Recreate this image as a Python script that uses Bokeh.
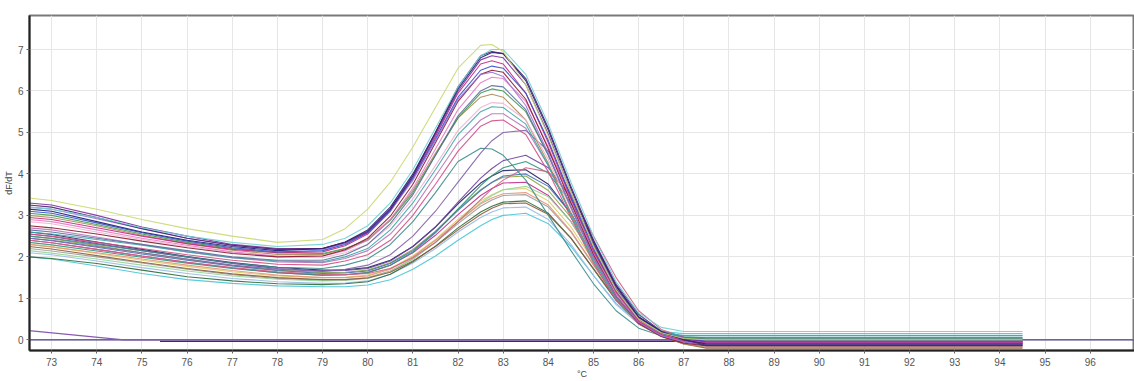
from bokeh.plotting import figure
from bokeh.models import Range1d, FixedTicker
from bokeh.embed import file_html
from bokeh.resources import INLINE

# ---------------- data ----------------
temps = [72.5, 73, 74, 75, 76, 77, 78, 79, 79.5, 80, 80.5, 81, 81.5, 82, 82.5, 82.75,
         83, 83.5, 84, 84.5, 85, 85.5, 86, 86.5, 87, 87.5, 94.5]

x_ticks = list(range(73, 98))
y_ticks = [0, 1, 2, 3, 4, 5, 6, 7]

# high-peak wells (Tm ~82.6)
u01 = [3.42, 3.36, 3.15, 2.9, 2.68, 2.5, 2.35, 2.42, 2.68, 3.15, 3.8, 4.65, 5.6, 6.55, 7.1, 7.12, 6.95, 6.15, 4.9, 3.55, 2.25, 1.2, 0.5, 0.17, 0.03, 0.0, 0.0]
u02 = [3.2, 3.15, 2.95, 2.7, 2.5, 2.35, 2.25, 2.3, 2.45, 2.75, 3.3, 4.1, 5.1, 6.1, 6.85, 7.0, 7.0, 6.4, 5.2, 3.8, 2.5, 1.4, 0.65, 0.3, 0.2, 0.2, 0.2]
u03 = [3.15, 3.1, 2.85, 2.6, 2.4, 2.25, 2.15, 2.2, 2.36, 2.65, 3.2, 4.0, 5.0, 6.05, 6.8, 6.93, 6.9, 6.25, 5.05, 3.65, 2.35, 1.3, 0.55, 0.2, 0.0, -0.1, -0.1]
u04 = [3.3, 3.25, 3.0, 2.72, 2.5, 2.3, 2.2, 2.2, 2.34, 2.6, 3.15, 3.95, 4.95, 6.0, 6.75, 6.85, 6.8, 6.15, 4.95, 3.55, 2.25, 1.2, 0.5, 0.17, 0.02, -0.05, -0.05]
u05 = [2.95, 2.9, 2.7, 2.5, 2.32, 2.18, 2.1, 2.12, 2.27, 2.55, 3.1, 3.9, 4.9, 5.95, 6.65, 6.73, 6.65, 5.95, 4.75, 3.4, 2.15, 1.15, 0.45, 0.12, -0.02, -0.08, -0.08]
u06 = [3.1, 3.05, 2.82, 2.58, 2.38, 2.22, 2.12, 2.15, 2.3, 2.58, 3.12, 3.9, 4.85, 5.85, 6.5, 6.6, 6.55, 5.95, 4.8, 3.45, 2.2, 1.2, 0.5, 0.17, 0.02, -0.03, -0.03]
u07 = [2.75, 2.7, 2.55, 2.38, 2.22, 2.08, 2.0, 2.02, 2.17, 2.45, 2.98, 3.75, 4.75, 5.75, 6.4, 6.5, 6.45, 5.8, 4.6, 3.3, 2.05, 1.05, 0.4, 0.08, -0.08, -0.15, -0.15]
u08 = [2.9, 2.85, 2.65, 2.45, 2.28, 2.12, 2.02, 2.02, 2.15, 2.4, 2.9, 3.65, 4.6, 5.55, 6.2, 6.33, 6.3, 5.75, 4.65, 3.35, 2.1, 1.1, 0.45, 0.12, 0.0, -0.06, -0.06]
u09 = [2.65, 2.6, 2.45, 2.3, 2.15, 2.0, 1.92, 1.92, 2.05, 2.3, 2.8, 3.5, 4.45, 5.4, 6.0, 6.13, 6.1, 5.55, 4.45, 3.2, 2.0, 1.05, 0.42, 0.1, -0.05, -0.12, -0.12]
u10 = [3.05, 3.0, 2.78, 2.55, 2.35, 2.2, 2.1, 2.08, 2.2, 2.4, 2.88, 3.55, 4.45, 5.35, 5.95, 6.05, 6.0, 5.5, 4.45, 3.2, 2.0, 1.05, 0.43, 0.14, 0.04, 0.02, 0.02]
u11 = [2.85, 2.8, 2.6, 2.42, 2.25, 2.1, 2.0, 1.98, 2.1, 2.3, 2.75, 3.4, 4.2, 5.05, 5.6, 5.72, 5.7, 5.3, 4.35, 3.15, 2.0, 1.05, 0.43, 0.13, 0.0, -0.04, -0.04]
u12 = [2.6, 2.55, 2.42, 2.28, 2.12, 1.98, 1.9, 1.88, 2.0, 2.2, 2.65, 3.3, 4.1, 4.95, 5.5, 5.62, 5.6, 5.2, 4.2, 3.0, 1.9, 1.0, 0.42, 0.17, 0.1, 0.1, 0.1]
u13 = [3.0, 2.95, 2.75, 2.52, 2.32, 2.16, 2.06, 2.06, 2.19, 2.42, 2.9, 3.6, 4.5, 5.35, 5.85, 5.92, 5.85, 5.3, 4.25, 3.05, 1.9, 1.0, 0.38, 0.08, -0.1, -0.18, -0.18]
u14 = [3.2, 3.15, 2.92, 2.68, 2.45, 2.28, 2.18, 2.18, 2.32, 2.58, 3.1, 3.85, 4.8, 5.8, 6.4, 6.45, 6.35, 5.65, 4.5, 3.2, 2.0, 1.05, 0.42, 0.1, -0.05, -0.1, -0.1]
u15 = [3.25, 3.2, 2.95, 2.68, 2.45, 2.28, 2.18, 2.2, 2.35, 2.62, 3.15, 3.95, 5.0, 6.1, 6.85, 6.95, 6.9, 6.3, 5.1, 3.7, 2.4, 1.3, 0.55, 0.18, 0.0, -0.13, -0.13]

# intermediate wells
m01 = [2.7, 2.65, 2.48, 2.3, 2.12, 1.98, 1.88, 1.86, 1.96, 2.15, 2.55, 3.15, 3.95, 4.75, 5.3, 5.45, 5.45, 5.1, 4.2, 3.05, 1.95, 1.02, 0.42, 0.12, 0.0, -0.05, -0.05]
m02 = [2.5, 2.45, 2.3, 2.15, 2.0, 1.85, 1.75, 1.72, 1.8, 1.95, 2.3, 2.85, 3.55, 4.3, 4.62, 4.6, 4.45, 3.85, 3.0, 2.15, 1.35, 0.7, 0.28, 0.1, 0.05, 0.05, 0.05]
m03 = [2.45, 2.4, 2.25, 2.1, 1.95, 1.8, 1.7, 1.65, 1.7, 1.8, 2.05, 2.5, 3.1, 3.8, 4.5, 4.8, 5.0, 5.05, 4.55, 3.5, 2.3, 1.25, 0.55, 0.2, 0.06, 0.02, 0.02]
m04 = [2.55, 2.5, 2.35, 2.2, 2.05, 1.92, 1.82, 1.8, 1.9, 2.05, 2.4, 3.0, 3.75, 4.55, 5.15, 5.28, 5.3, 4.95, 4.05, 2.95, 1.85, 0.95, 0.38, 0.1, -0.03, -0.07, -0.07]

# low-peak wells (Tm ~83.4)
l01 = [2.0, 1.95, 1.78, 1.6, 1.45, 1.36, 1.3, 1.28, 1.28, 1.32, 1.45, 1.7, 2.02, 2.4, 2.75, 2.9, 3.0, 3.05, 2.8, 2.25, 1.55, 0.88, 0.42, 0.2, 0.15, 0.15, 0.15]
l02 = [2.1, 2.05, 1.9, 1.74, 1.6, 1.48, 1.4, 1.36, 1.37, 1.42, 1.58, 1.85, 2.2, 2.6, 2.95, 3.08, 3.18, 3.2, 2.9, 2.3, 1.55, 0.85, 0.38, 0.16, 0.1, 0.1, 0.1]
l03 = [2.0, 1.96, 1.84, 1.68, 1.52, 1.42, 1.35, 1.33, 1.35, 1.4, 1.58, 1.88, 2.26, 2.7, 3.08, 3.22, 3.32, 3.35, 3.05, 2.45, 1.7, 0.95, 0.42, 0.12, -0.02, -0.08, -0.08]
l04 = [2.2, 2.14, 2.0, 1.85, 1.7, 1.57, 1.48, 1.44, 1.45, 1.5, 1.66, 1.95, 2.35, 2.8, 3.22, 3.37, 3.48, 3.5, 3.2, 2.6, 1.8, 1.0, 0.45, 0.14, 0.0, -0.02, -0.02]
l05 = [2.3, 2.24, 2.08, 1.92, 1.77, 1.64, 1.54, 1.5, 1.51, 1.56, 1.72, 2.02, 2.42, 2.9, 3.35, 3.5, 3.62, 3.65, 3.35, 2.72, 1.9, 1.05, 0.47, 0.14, -0.02, -0.06, -0.06]
l06 = [2.4, 2.34, 2.18, 2.02, 1.87, 1.73, 1.62, 1.56, 1.57, 1.62, 1.8, 2.1, 2.52, 3.02, 3.48, 3.65, 3.78, 3.8, 3.48, 2.85, 2.0, 1.12, 0.5, 0.15, -0.04, -0.1, -0.1]
l07 = [2.5, 2.44, 2.27, 2.1, 1.94, 1.79, 1.68, 1.62, 1.63, 1.68, 1.86, 2.18, 2.62, 3.15, 3.62, 3.79, 3.92, 3.95, 3.6, 2.95, 2.05, 1.15, 0.52, 0.18, 0.03, 0.0, 0.0]
l08 = [2.6, 2.54, 2.36, 2.18, 2.01, 1.86, 1.75, 1.68, 1.69, 1.74, 1.92, 2.25, 2.72, 3.28, 3.78, 3.95, 4.08, 4.1, 3.75, 3.05, 2.12, 1.2, 0.54, 0.16, -0.04, -0.14, -0.14]
l09 = [2.35, 2.29, 2.14, 1.99, 1.85, 1.72, 1.62, 1.56, 1.57, 1.62, 1.8, 2.12, 2.58, 3.15, 3.72, 3.96, 4.15, 4.3, 4.02, 3.3, 2.3, 1.3, 0.6, 0.22, 0.07, 0.05, 0.05]
l10 = [2.55, 2.49, 2.32, 2.15, 1.99, 1.84, 1.72, 1.66, 1.67, 1.72, 1.9, 2.25, 2.72, 3.32, 3.9, 4.13, 4.32, 4.45, 4.15, 3.42, 2.4, 1.35, 0.62, 0.2, 0.0, -0.06, -0.06]
l11 = [2.15, 2.09, 1.95, 1.8, 1.66, 1.54, 1.46, 1.42, 1.43, 1.48, 1.64, 1.95, 2.35, 2.85, 3.3, 3.48, 3.62, 3.7, 3.45, 2.85, 2.0, 1.12, 0.5, 0.16, 0.04, 0.03, 0.03]
l12 = [2.25, 2.19, 2.03, 1.87, 1.72, 1.59, 1.5, 1.45, 1.45, 1.49, 1.63, 1.9, 2.25, 2.65, 3.02, 3.17, 3.28, 3.3, 3.02, 2.45, 1.72, 0.98, 0.43, 0.1, -0.1, -0.2, -0.2]
l13 = [2.3, 2.24, 2.1, 1.95, 1.8, 1.67, 1.56, 1.5, 1.5, 1.54, 1.7, 2.0, 2.4, 2.85, 3.28, 3.42, 3.52, 3.55, 3.25, 2.62, 1.82, 1.02, 0.46, 0.14, -0.04, -0.1, -0.1]
l14 = [2.45, 2.39, 2.23, 2.07, 1.92, 1.78, 1.67, 1.6, 1.61, 1.66, 1.84, 2.15, 2.6, 3.12, 3.6, 3.8, 3.95, 4.0, 3.7, 3.05, 2.15, 1.22, 0.55, 0.19, 0.04, 0.0, 0.0]
l15 = [2.4, 2.34, 2.18, 2.02, 1.87, 1.74, 1.64, 1.58, 1.57, 1.6, 1.72, 1.98, 2.35, 2.85, 3.38, 3.64, 3.85, 4.15, 4.05, 3.5, 2.5, 1.5, 0.7, 0.25, 0.06, 0.0, 0.0]

# negative controls
nc_a_x = [72.5, 74.6, 94.5]
nc_a_y = [0.22, 0.0, 0.0]
nc_b_x = [72.5, 97.0]
nc_b_y = [0.0, 0.0]
nc_c_x = [75.4, 94.5]
nc_c_y = [-0.04, -0.04]

low_curves = [l01, l02, l03, l04, l05, l06, l07, l08, l09, l10, l11, l12, l13, l14, l15]
low_colors = ["#48c4d8", "#98b8e8", "#2e6b3a", "#9c9c9c", "#d8cc66", "#c0308f", "#8aa542",
              "#232366", "#2f967c", "#6c3f9e", "#92d694", "#8c5a3a", "#e29474", "#4272b4", "#d06084"]
mid_curves = [m01, m02, m03, m04]
mid_colors = ["#b874b8", "#3c8c8c", "#8262a8", "#d24e84"]
high_curves = [u13, u12, u11, u10, u09, u08, u07, u05, u14, u06, u04, u03, u15, u02, u01]
high_colors = ["#a88a55", "#3aa8a8", "#f0b2d2", "#3f9a52", "#5c6c9c", "#e47cc4", "#8b1a2e",
               "#c42a82", "#9a72d8", "#3550c8", "#7a2f9c", "#1c1c78", "#48206e", "#6fd0d0", "#c9d870"]

for c in low_curves + mid_curves + high_curves:
    assert len(c) == len(temps), len(c)

# ---------------- figure ----------------
p = figure(width=1134, height=381, output_backend="svg", toolbar_location=None,
           x_range=Range1d(72.51, 96.98), y_range=Range1d(-0.258, 7.82),
           min_border_left=0, min_border_right=0, min_border_top=15, min_border_bottom=0)
p.background_fill_color = "white"
p.border_fill_color = "white"
p.outline_line_color = "#7a7a7a"
p.outline_line_width = 2

for ax in (p.xaxis, p.yaxis):
    ax.axis_line_color = "#222222"
    ax.axis_line_width = 2
    ax.major_tick_line_color = "#666666"
    ax.major_tick_out = 3
    ax.major_tick_in = 0
    ax.minor_tick_line_color = None
    ax.major_label_text_font = "Liberation Sans"
    ax.major_label_text_font_size = "10px"
    ax.major_label_text_color = "#555555"
    ax.axis_label_text_font = "Liberation Sans"
    ax.axis_label_text_font_size = "9px"
    ax.axis_label_text_font_style = "normal"
    ax.axis_label_text_color = "#444444"

p.xaxis.ticker = FixedTicker(ticks=x_ticks)
p.yaxis.ticker = FixedTicker(ticks=y_ticks)
p.xaxis.axis_label = "°C"
p.yaxis.axis_label = "dF/dT"
p.xaxis.major_label_standoff = 4
p.xaxis.axis_label_standoff = 0
p.yaxis.major_label_standoff = 3
p.yaxis.axis_label_standoff = 1

p.xgrid.grid_line_color = "#e6e6e6"
p.ygrid.grid_line_color = "#e6e6e6"

p.line(nc_b_x, nc_b_y, color="#4a3a7a", line_width=1.3)
p.line(nc_c_x, nc_c_y, color="#3a2a70", line_width=1.3)
p.line(nc_a_x, nc_a_y, color="#8a5ab0", line_width=1.3)

for c, col in zip(low_curves, low_colors):
    p.line(temps, c, color=col, line_width=1.1, line_alpha=0.9)
for c, col in zip(mid_curves, mid_colors):
    p.line(temps, c, color=col, line_width=1.1, line_alpha=0.9)
for c, col in zip(high_curves, high_colors):
    p.line(temps, c, color=col, line_width=1.1, line_alpha=0.9)

open("out.html", "w").write(file_html(p, INLINE))
